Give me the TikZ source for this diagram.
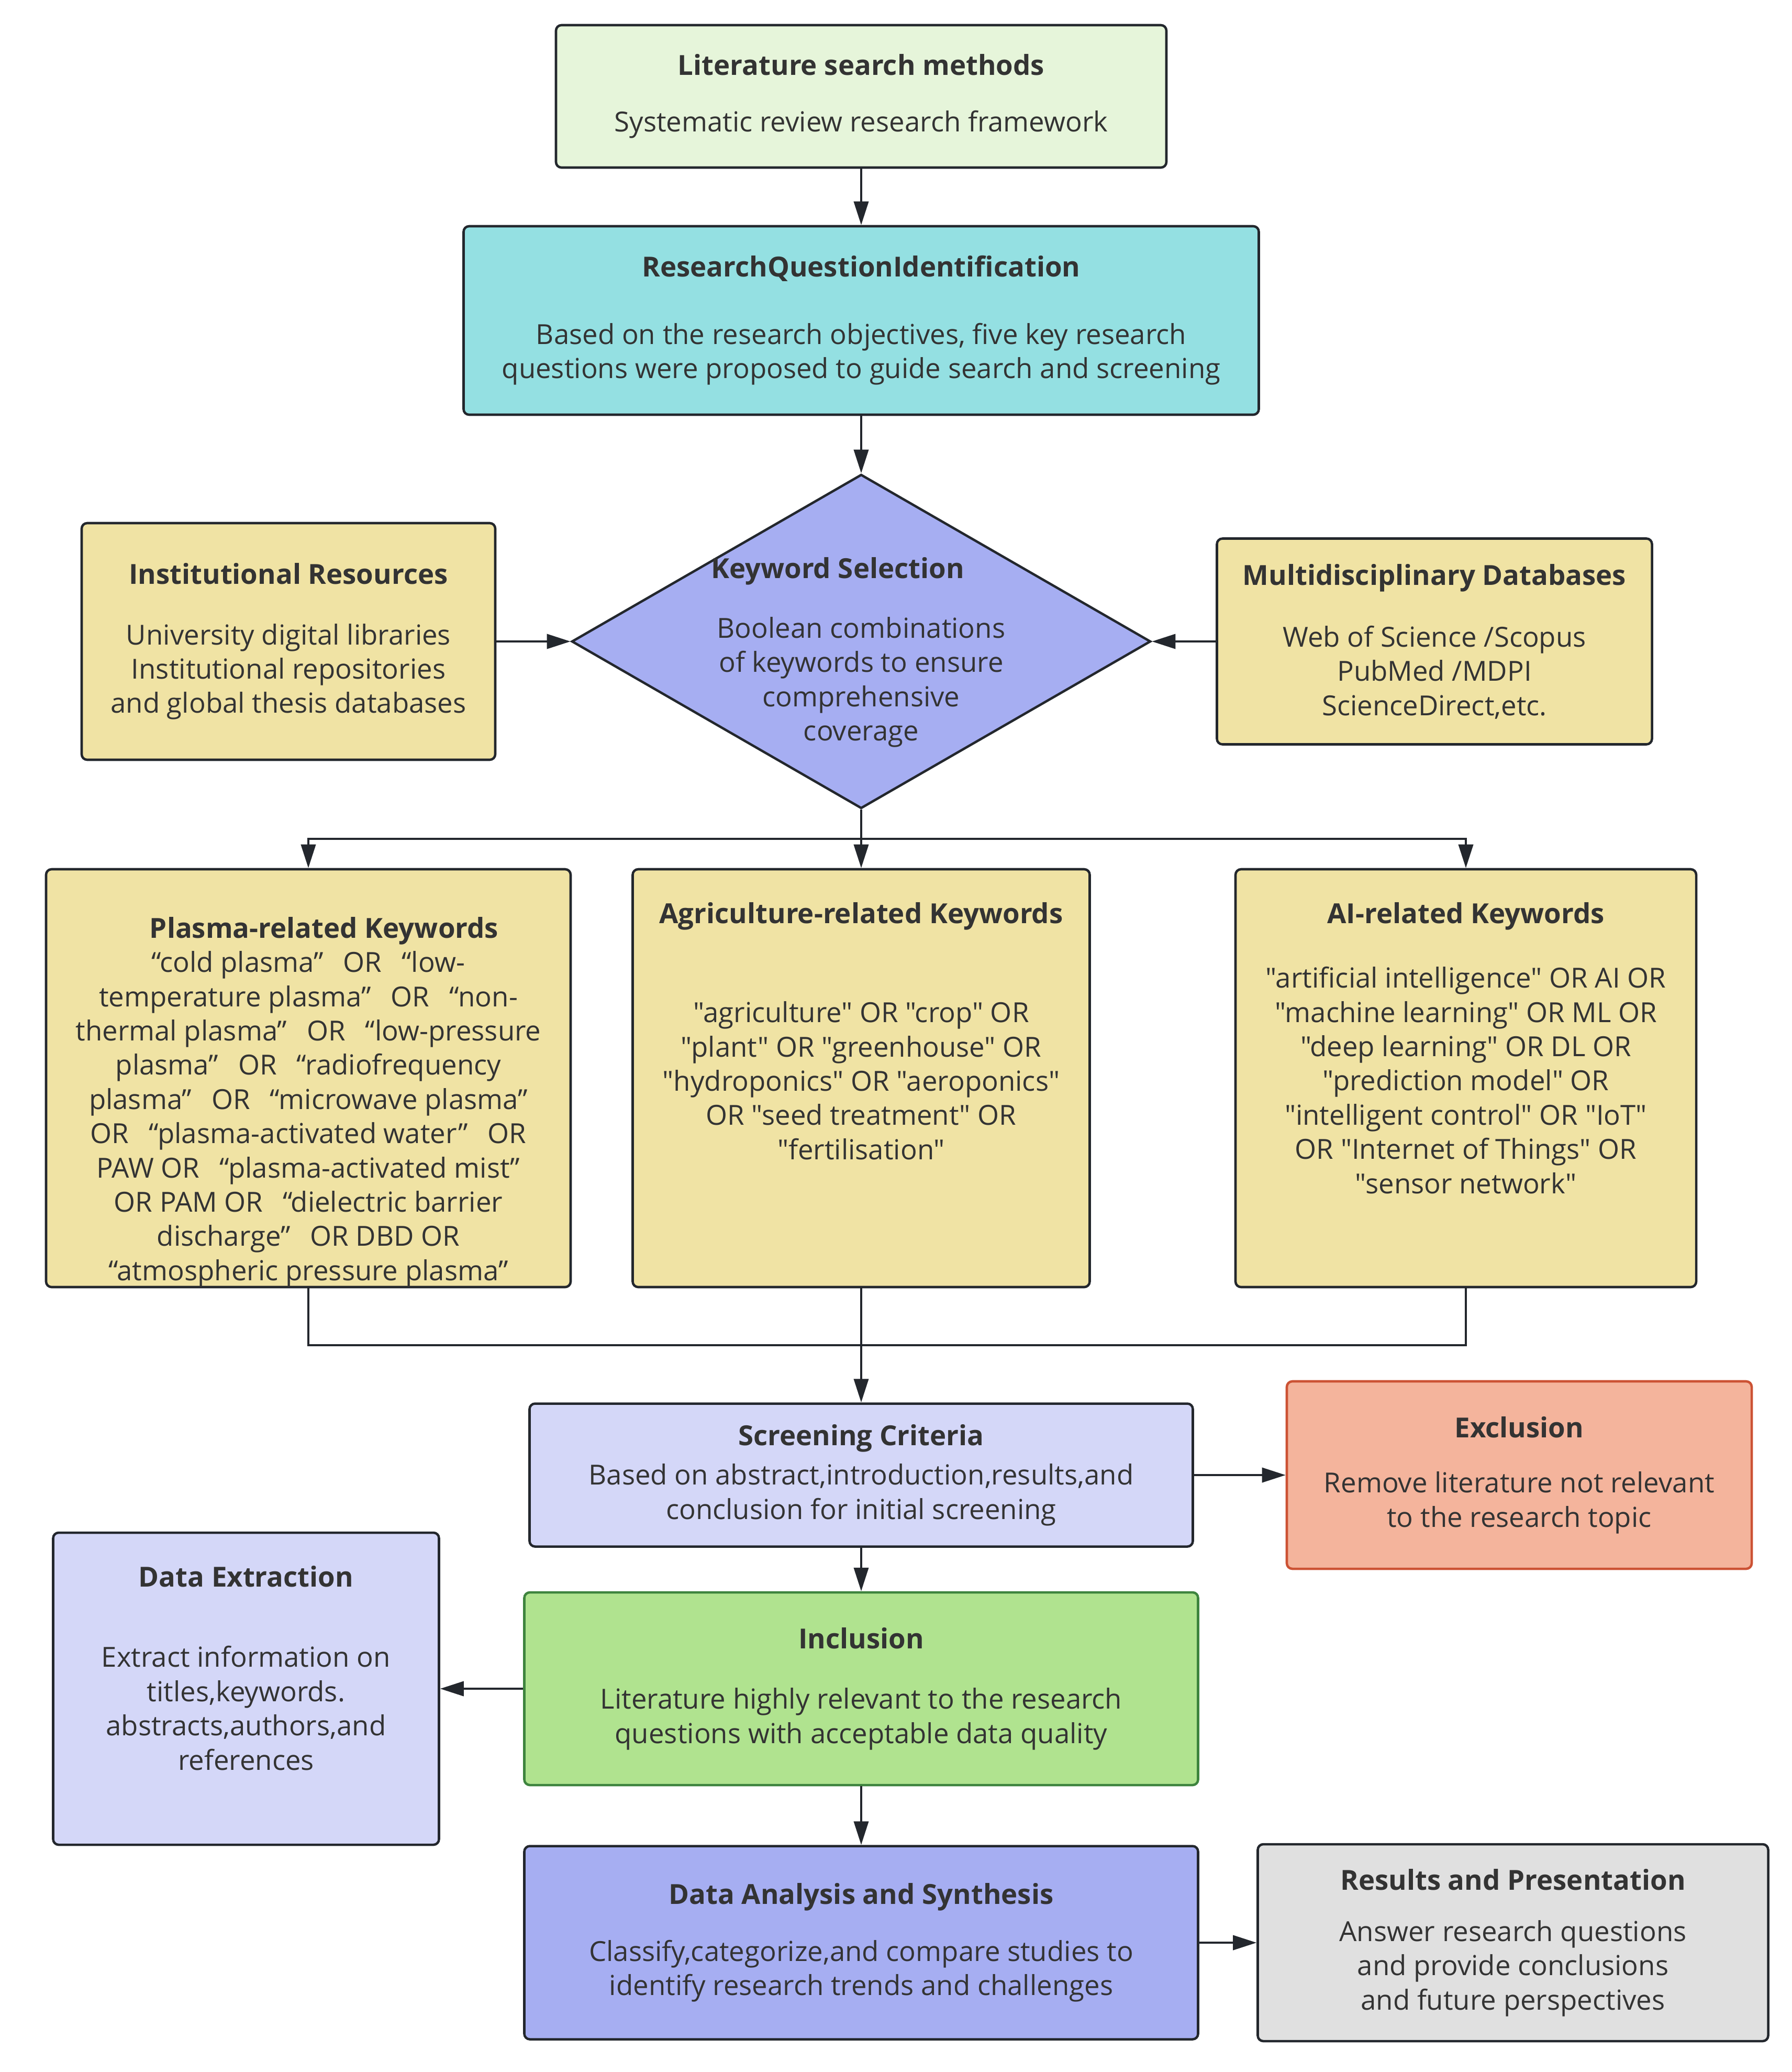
\documentclass[tikz,border=0pt]{standalone}
\usepackage{fontspec}
\setmainfont{Open Sans}[Ligatures=TeXOff]
\usetikzlibrary{arrows.meta,positioning,shapes.geometric}
\definecolor{flowline}{RGB}{35,39,45}
\definecolor{flowtext}{RGB}{51,51,51}
\definecolor{flowmint}{RGB}{230,245,218}
\definecolor{flowcyan}{RGB}{148,224,226}
\definecolor{flowperi}{RGB}{166,174,242}
\definecolor{flowsand}{RGB}{240,227,164}
\definecolor{flowlilac}{RGB}{212,215,248}
\definecolor{flowsalmon}{RGB}{244,180,156}
\definecolor{flowred}{RGB}{204,82,52}
\definecolor{flowgreen}{RGB}{176,227,143}
\definecolor{flowdkgreen}{RGB}{62,132,62}
\definecolor{flowgrey}{RGB}{224,224,224}
\newcommand{\orsp}{\hspace{0.72em}}

\begin{document}
\begin{tikzpicture}[
    flowbox/.style={rectangle, draw=flowline, line width=1.3pt,
                 rounded corners=3pt, align=center, text=flowtext,
                 font=\fontsize{15}{18.6}\selectfont, inner sep=2pt},
    bodytext/.style={align=center, text=flowtext, inner sep=0pt,
                 font=\fontsize{15}{18.6}\selectfont},
    kwshape/.style={diamond, draw=flowline, line width=1.3pt,
                 fill=flowperi, inner sep=0pt},
    arr/.style={-{Triangle[length=0.45cm, width=0.28cm]},
                line width=1.1pt, draw=flowline},
    link/.style={line width=1.1pt, draw=flowline},
  ]
  \useasboundingbox (0,0) rectangle (34.22,-39.57);

  % Top of the flow
  \node[flowbox, fill=flowmint, minimum width=11.66cm, minimum height=2.72cm]
    (lit) at (16.45,-1.84)
    {\textbf{Literature search methods}\\[0.43cm]
     Systematic review research framework};
  \node[flowbox, fill=flowcyan, minimum width=15.19cm, minimum height=3.60cm]
    (rq) at (16.45,-6.12)
    {\textbf{ResearchQuestionIdentification}\\[0.63cm]
     Based on the research objectives, five key research\\
     questions were proposed to guide search and screening};

  \draw[arr] (lit) -- (rq);

  % Keyword selection and its sources
  \node[kwshape, minimum width=11.06cm, minimum height=6.38cm]
    (kw) at (16.45,-12.25) {};
  \node[bodytext] (kwtext) at (16.45,-12.46)
    {\hspace*{-0.9cm}\textbf{Keyword Selection}\\[0.48cm]
     Boolean combinations\\ of keywords to ensure\\
     comprehensive\\ coverage};

  \node[flowbox, fill=flowsand, minimum width=7.90cm, minimum height=4.52cm]
    (inst) at (5.51,-12.25)
    {\textbf{Institutional Resources}\\[0.5cm]
     University digital libraries\\ Institutional repositories\\
     and global thesis databases};
  \node[flowbox, fill=flowsand, minimum width=8.31cm, minimum height=3.93cm]
    (multi) at (27.40,-12.25)
    {\textbf{Multidisciplinary Databases}\\[0.53cm]
     Web of Science /Scopus\\ PubMed /MDPI\\ ScienceDirect,etc.};

  \draw[arr] (rq) -- (kw);
  \draw[arr] (inst) -- (kw);
  \draw[arr] (multi) -- (kw);

  % Three keyword groups
  \node[flowbox, fill=flowsand, minimum width=10.02cm, minimum height=7.98cm]
    (plasma) at (5.89,-20.59) {};
  \node[flowbox, fill=flowsand, minimum width=8.73cm, minimum height=7.98cm]
    (agri) at (16.45,-20.59) {};
  \node[flowbox, fill=flowsand, minimum width=8.80cm, minimum height=7.98cm]
    (ai) at (28.00,-20.59) {};

  \node[bodytext, anchor=north] (plasmatext) at ([yshift=-0.93cm]plasma.north)
    {\hspace*{0.6cm}\textbf{Plasma-related Keywords}\\
     “cold plasma”\orsp OR\orsp “low-\\
     temperature plasma”\orsp OR\orsp “non-\\
     thermal plasma”\orsp OR\orsp “low-pressure\\
     plasma”\orsp OR\orsp “radiofrequency\\
     plasma”\orsp OR\orsp “microwave plasma”\\
     OR\orsp “plasma-activated water”\orsp OR\\
     PAW OR\orsp “plasma-activated mist”\\
     OR PAM OR\orsp “dielectric barrier\\
     discharge”\orsp OR DBD OR\\
     “atmospheric pressure plasma”};
  \node[bodytext, anchor=north] (agritext) at ([yshift=-0.65cm]agri.north)
    {\textbf{Agriculture-related Keywords}\\[1.24cm]
     "agriculture" OR "crop" OR\\
     "plant" OR "greenhouse" OR\\
     "hydroponics" OR "aeroponics"\\
     OR "seed treatment" OR\\
     "fertilisation"};
  \node[bodytext, anchor=north] (aitext) at ([yshift=-0.65cm]ai.north)
    {\textbf{AI-related Keywords}\\[0.58cm]
     "artificial intelligence" OR AI OR\\
     "machine learning" OR ML OR\\
     "deep learning" OR DL OR\\
     "prediction model" OR\\
     "intelligent control" OR "IoT"\\
     OR "Internet of Things" OR\\
     "sensor network"};

  \coordinate (split) at (16.45,-16.02);
  \coordinate (merge) at (16.45,-25.69);
  \draw[arr] (kw) -- (agri);
  \draw[arr] (split) -| (plasma);
  \draw[arr] (split) -| (ai);
  \draw[link] (plasma) |- (merge);
  \draw[link] (ai) |- (merge);

  % Screening
  \node[flowbox, fill=flowlilac, minimum width=12.67cm, minimum height=2.73cm]
    (screen) at (16.45,-28.17)
    {\textbf{Screening Criteria}\\[0.1cm]
     Based on abstract,introduction,results,and\\
     conclusion for initial screening};
  \node[flowbox, fill=flowsalmon, draw=flowred, minimum width=8.88cm,
        minimum height=3.58cm]
    (excl) at (29.02,-28.17)
    {\textbf{Exclusion}\\[0.4cm]
     Remove literature not relevant\\ to the research topic};
  \node[flowbox, fill=flowgreen, draw=flowdkgreen, minimum width=12.87cm,
        minimum height=3.68cm]
    (incl) at (16.45,-32.25)
    {\textbf{Inclusion}\\[0.5cm]
     Literature highly relevant to the research\\
     questions with acceptable data quality};
  \node[flowbox, fill=flowlilac, minimum width=7.37cm, minimum height=5.96cm]
    (extract) at (4.70,-32.25) {};
  \node[bodytext, anchor=north] (extracttext) at ([yshift=-0.65cm]extract.north)
    {\textbf{Data Extraction}\\[0.88cm]
     Extract information on\\ titles,keywords.\\
     abstracts,authors,and\\ references};

  \draw[arr] (agri) -- (screen);
  \draw[arr] (screen) -- (excl);
  \draw[arr] (screen) -- (incl);
  \draw[arr] (incl) -- (extract);

  % Analysis and results
  \node[flowbox, fill=flowperi, minimum width=12.87cm, minimum height=3.69cm]
    (synth) at (16.45,-37.10)
    {\textbf{Data Analysis and Synthesis}\\[0.43cm]
     Classify,categorize,and compare studies to\\
     identify research trends and challenges};
  \node[flowbox, fill=flowgrey, minimum width=9.75cm, minimum height=3.76cm]
    (present) at (28.90,-37.10)
    {\textbf{Results and Presentation}\\[0.33cm]
     Answer research questions\\ and provide conclusions\\
     and future perspectives};

  \draw[arr] (incl) -- (synth);
  \draw[arr] (synth) -- (present);
\end{tikzpicture}
\end{document}
